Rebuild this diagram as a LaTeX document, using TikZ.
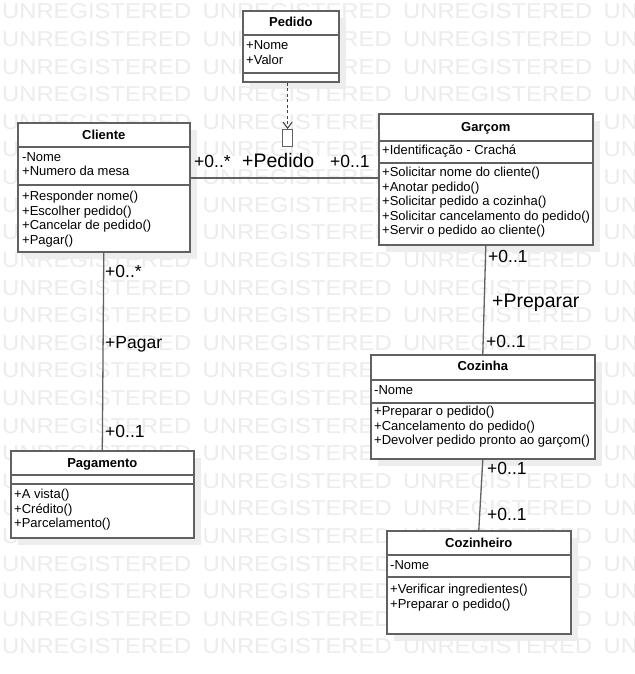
\documentclass[tikz,border=0pt]{standalone}
\usepackage{fontspec}
\setmainfont{Liberation Sans}
\usepackage{graphicx}
\usetikzlibrary{arrows.meta,shadows}
\definecolor{boxline}{gray}{0.38}
\definecolor{wmgray}{gray}{0.925}
\definecolor{shadowgray}{gray}{0.93}
\tikzset{
  classbox/.style={draw=boxline, line width=1.6pt, fill=white, inner sep=0pt, anchor=north west,
    drop shadow={shadow xshift=7pt, shadow yshift=-7pt, fill=shadowgray, opacity=1}},
  sepline/.style={draw=boxline, line width=1.6pt},
  ctitle/.style={font=\fontsize{13}{13}\selectfont\bfseries, anchor=base, inner sep=0pt},
  member/.style={font=\fontsize{13}{13}\selectfont, anchor=base west, inner sep=0pt},
  assoc/.style={draw=boxline, line width=1.3pt},
  mult/.style={font=\fontsize{17.5}{18}\selectfont, anchor=base west, inner sep=0pt},
  role/.style={font=\fontsize{19.5}{20}\selectfont, anchor=base west, inner sep=0pt},
  dep/.style={draw=black!75, line width=1pt, dash pattern=on 3pt off 2.5pt,
    -{Straight Barb[length=6pt,width=9pt]}},
  wm/.style={text=wmgray, anchor=base west, inner sep=0pt, font=\fontsize{21}{21}\selectfont}
}
\begin{document}
\begin{tikzpicture}[x=1pt,y=-1pt]
\useasboundingbox (0,0) rectangle (634,674);
\clip (0,0) rectangle (634,674);
\fill[white] (0,0) rectangle (634,674);
% watermark
\foreach \r in {0,...,23}{
  \foreach \c in {0,...,3}{
    \node[wm] (wm-\r-\c) at (2+200.5*\c, 19+27.6*\r) {\resizebox{189pt}{15pt}{UNREGISTERED}};
  }
}
% ---------- Pedido
\node[classbox, minimum width=96pt, minimum height=71pt] (pedido) at (242,10) {};
\draw[sepline] (pedido.west |- 0,35) -- (pedido.east |- 0,35);
\draw[sepline] (pedido.west |- 0,73) -- (pedido.east |- 0,73);
\node[ctitle] (pedido-t) at (pedido.center |- 0,26.5) {Pedido};
\node[member] (pedido-a1) at (246,49.5) {+Nome};
\node[member] (pedido-a2) at (246,64.5) {+Valor};
% ---------- Cliente
\node[classbox, minimum width=172pt, minimum height=129pt] (cliente) at (17,122) {};
\draw[sepline] (cliente.west |- 0,147) -- (cliente.east |- 0,147);
\draw[sepline] (cliente.west |- 0,185) -- (cliente.east |- 0,185);
\node[ctitle] (cliente-t) at (cliente.center |- 0,139.5) {Cliente};
\node[member] (cliente-a1) at (22,161.5) {-Nome};
\node[member] (cliente-a2) at (22,175.5) {+Numero da mesa};
\node[member] (cliente-m1) at (22,200.5) {+Responder nome()};
\node[member] (cliente-m2) at (22,215) {+Escolher pedido()};
\node[member] (cliente-m3) at (22,229.5) {+Cancelar de pedido()};
\node[member] (cliente-m4) at (22,244) {+Pagar()};
% ---------- Garcom
\node[classbox, minimum width=214pt, minimum height=131pt] (garcom) at (378,113) {};
\draw[sepline] (garcom.west |- 0,141) -- (garcom.east |- 0,141);
\draw[sepline] (garcom.west |- 0,163) -- (garcom.east |- 0,163);
\node[ctitle] (garcom-t) at (garcom.center |- 0,131.5) {Garçom};
\node[member] (garcom-a1) at (382,154.5) {+Identificação - Crachá};
\node[member] (garcom-m1) at (382,176.5) {+Solicitar nome do cliente()};
\node[member] (garcom-m2) at (382,191) {+Anotar pedido()};
\node[member] (garcom-m3) at (382,205.5) {+Solicitar pedido a cozinha()};
\node[member] (garcom-m4) at (382,220) {+Solicitar cancelamento do pedido()};
\node[member] (garcom-m5) at (382,234.5) {+Servir o pedido ao cliente()};
% ---------- Cozinha
\node[classbox, minimum width=224pt, minimum height=104pt] (cozinha) at (370,354) {};
\draw[sepline] (cozinha.west |- 0,380) -- (cozinha.east |- 0,380);
\draw[sepline] (cozinha.west |- 0,403) -- (cozinha.east |- 0,403);
\node[ctitle] (cozinha-t) at (cozinha.center |- 0,370.5) {Cozinha};
\node[member] (cozinha-a1) at (374,394.5) {-Nome};
\node[member] (cozinha-m1) at (374,415.5) {+Preparar o pedido()};
\node[member] (cozinha-m2) at (374,430) {+Cancelamento do pedido()};
\node[member] (cozinha-m3) at (374,444.5) {+Devolver pedido pronto ao garçom()};
% ---------- Pagamento
\node[classbox, minimum width=183pt, minimum height=87pt] (pagamento) at (10,450) {};
\draw[sepline] (pagamento.west |- 0,475) -- (pagamento.east |- 0,475);
\draw[sepline] (pagamento.west |- 0,484) -- (pagamento.east |- 0,484);
\node[ctitle] (pagamento-t) at (pagamento.center |- 0,467.5) {Pagamento};
\node[member] (pagamento-m1) at (14,498.5) {+A vista()};
\node[member] (pagamento-m2) at (14,513) {+Crédito()};
\node[member] (pagamento-m3) at (14,527.5) {+Parcelamento()};
% ---------- Cozinheiro
\node[classbox, minimum width=184pt, minimum height=103pt] (cozinheiro) at (386,530) {};
\draw[sepline] (cozinheiro.west |- 0,555) -- (cozinheiro.east |- 0,555);
\draw[sepline] (cozinheiro.west |- 0,577) -- (cozinheiro.east |- 0,577);
\node[ctitle] (cozinheiro-t) at (cozinheiro.center |- 0,547.5) {Cozinheiro};
\node[member] (cozinheiro-a1) at (390,569.5) {-Nome};
\node[member] (cozinheiro-m1) at (390,593.5) {+Verificar ingredientes()};
\node[member] (cozinheiro-m2) at (390,608) {+Preparar o pedido()};
% ---------- associations
\draw[assoc] (cliente.east |- 0,178) -- (garcom.west |- 0,178);
\draw[assoc] (cliente.south) -- (pagamento.north);
\draw[assoc] (garcom.south) -- (cozinha.north);
\draw[assoc] (cozinha.south) -- (cozinheiro.north);
% association class marker + dependency
\node[draw=boxline, line width=1.2pt, fill=white, minimum width=10pt, minimum height=17pt,
  inner sep=0pt, anchor=north west] (amark) at (282,129) {};
\draw[dep] (pedido.south -| amark.north) -- (amark.north);
% ---------- labels
\node[mult] (l1) at (194,167) {+0..*};
\node[role] (l2) at (242,167) {+Pedido};
\node[mult] (l3) at (330,167) {+0..1};
\node[mult] (l4) at (105,277) {+0..*};
\node[mult] (l5) at (105,348) {+Pagar};
\node[mult] (l6) at (105,437) {+0..1};
\node[mult] (l7) at (488,262) {+0..1};
\node[role] (l8) at (492,307) {+Preparar};
\node[mult] (l9) at (486,347) {+0..1};
\node[mult] (l10) at (487,474) {+0..1};
\node[mult] (l11) at (487,520) {+0..1};
\end{tikzpicture}
\end{document}
